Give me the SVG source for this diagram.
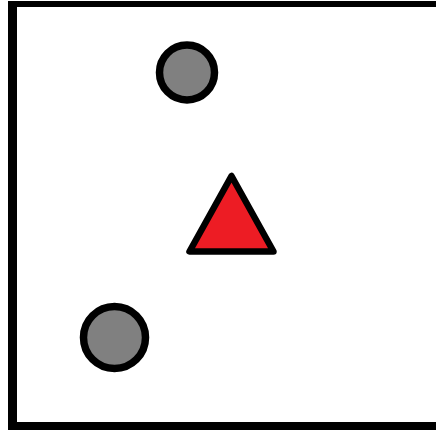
<svg xmlns="http://www.w3.org/2000/svg" width="436" height="430" viewBox="0 0 436 430">
<style>
.frame{fill:#000}
.dot{fill:#808080;stroke:#000;stroke-width:7.5}
.tri{fill:#ED1C24;stroke:#000;stroke-width:6.5;stroke-linejoin:round}
</style>
<rect x="0" y="0" width="436" height="430" fill="#fff"/>
<g id="frame">
<rect class="frame" x="8" y="1" width="428" height="6"/>
<rect class="frame" x="8" y="1" width="9" height="429"/>
<rect class="frame" x="8" y="422" width="428" height="8"/>
</g>
<g id="circle-top"><circle class="dot" cx="187" cy="72.5" r="27.5"/></g>
<g id="triangle"><polygon class="tri" points="231.5,176 189.5,251.5 273.5,251.5"/></g>
<g id="circle-bottom"><circle class="dot" cx="114.5" cy="337.5" r="31"/></g>
<g id="connectors"></g>
</svg>
